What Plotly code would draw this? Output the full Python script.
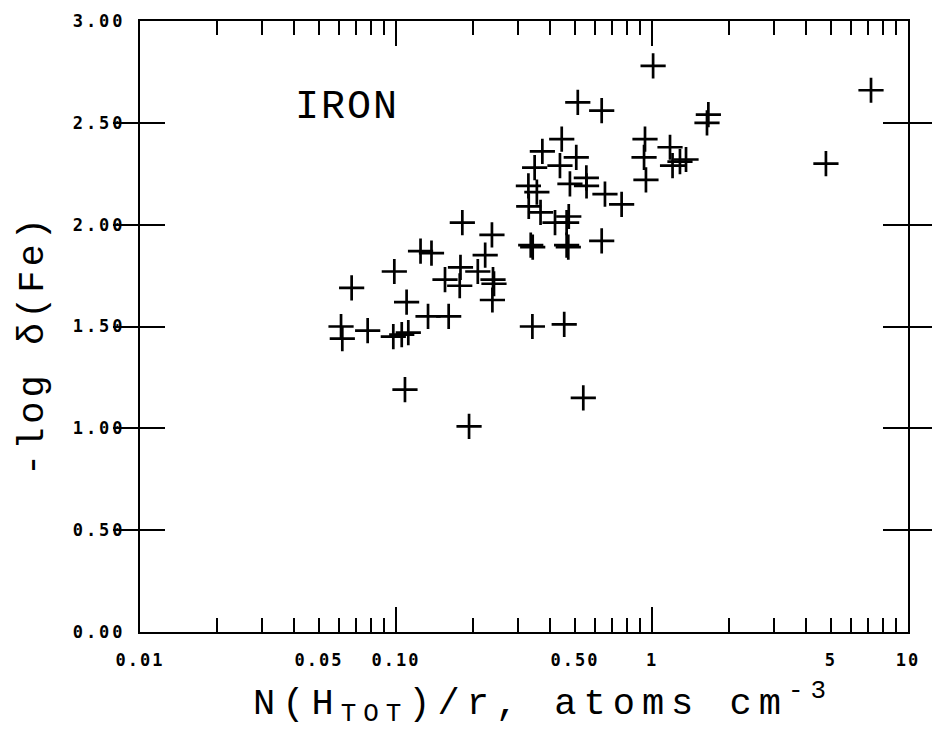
import plotly.graph_objects as go

# Data (N(H_TOT)/r in atoms cm^-3, -log delta(Fe))
nh = [1.01, 7.17, 0.513, 0.636, 1.66, 1.64, 0.444, 0.373, 0.506, 0.348,
      0.437, 0.939, 0.931, 1.176, 1.286, 1.358, 1.203, 4.78, 0.947, 0.554,
      0.478, 0.555, 0.329, 0.355, 0.655, 0.761, 0.330, 0.367, 0.418, 0.473,
      0.464, 0.336, 0.342, 0.471, 0.464, 0.636, 0.341, 0.454, 0.539, 0.1816,
      0.237, 0.223, 0.1247, 0.1376, 0.0985, 0.1786, 0.2087, 0.1554, 0.1774, 0.2393,
      0.2414, 0.238, 0.0671, 0.110, 0.1334, 0.1606, 0.0610, 0.0617, 0.0775, 0.0976,
      0.1053, 0.1117, 0.1084, 0.1929]
logdelta = [2.78, 2.66, 2.60, 2.56, 2.54, 2.50, 2.42, 2.36, 2.33, 2.28,
            2.29, 2.42, 2.33, 2.38, 2.31, 2.32, 2.29, 2.30, 2.22, 2.23,
            2.20, 2.19, 2.19, 2.16, 2.15, 2.10, 2.09, 2.06, 2.01, 2.04,
            2.01, 1.90, 1.89, 1.89, 1.90, 1.92, 1.50, 1.51, 1.15, 2.01,
            1.95, 1.85, 1.87, 1.86, 1.77, 1.79, 1.77, 1.73, 1.70, 1.73,
            1.71, 1.63, 1.69, 1.62, 1.55, 1.55, 1.50, 1.44, 1.48, 1.45,
            1.46, 1.47, 1.19, 1.01]

x_label_vals = [0.01, 0.05, 0.1, 0.5, 1, 5, 10]
x_label_text = ["0.01", "0.05", "0.10", "0.50", "1", "5", "10"]
x_decades = [0.01, 0.1, 1, 10]
x_minor = [m * d for d in [0.01, 0.1, 1] for m in range(2, 10)]
y_vals = [0, 0.5, 1.0, 1.5, 2.0, 2.5, 3.0]
y_text = ["0.00", "0.50", "1.00", "1.50", "2.00", "2.50", "3.00"]


def spaced(t, px):
    return f"<span style='letter-spacing:{px}px'>{t}</span>"


fig = go.Figure()
fig.add_trace(go.Scatter(
    x=nh, y=logdelta, mode="markers",
    marker=dict(symbol="cross-thin", size=18, color="black",
                line=dict(color="black", width=2.7)),
    showlegend=False, xaxis="x", yaxis="y"))
# invisible trace for overlay axis (long decade ticks)
fig.add_trace(go.Scatter(x=[0.01, 10], y=[0, 3], mode="markers",
                         marker=dict(opacity=0), showlegend=False,
                         hoverinfo="skip", xaxis="x2", yaxis="y"))

tick_font = dict(family="DejaVu Sans Mono", size=17, color="black", weight="bold")

fig.update_layout(
    width=932, height=740,
    margin=dict(l=140, r=24, t=21, b=108),
    paper_bgcolor="white", plot_bgcolor="white",
    xaxis=dict(type="log", range=[-2, 1], tickmode="array",
               tickvals=x_label_vals, ticktext=[spaced(t, 2) for t in x_label_text],
               ticks="inside", ticklen=14, tickwidth=1.5, tickcolor="black",
               showline=True, linecolor="black", linewidth=2, mirror="allticks",
               showgrid=False, zeroline=False, tickfont=tick_font,
               ticklabelstandoff=12,
               minor=dict(tickmode="array", tickvals=x_minor, ticks="inside",
                          ticklen=14, tickwidth=1.5, tickcolor="black", showgrid=False)),
    xaxis2=dict(type="log", range=[-2, 1], overlaying="x", side="bottom",
                anchor="y", tickmode="array", tickvals=x_decades,
                ticks="inside", ticklen=25, tickwidth=1.5, tickcolor="black",
                showticklabels=False, showline=False, mirror="allticks",
                showgrid=False, zeroline=False),
    yaxis=dict(range=[0, 3], tickmode="array", tickvals=y_vals,
               ticktext=[spaced(t, 3) for t in y_text],
               ticks="inside", ticklen=25, tickwidth=1.5, tickcolor="black",
               showline=True, linecolor="black", linewidth=2, mirror="allticks",
               showgrid=False, zeroline=False, tickfont=tick_font,
               ticklabelstandoff=9),
    annotations=[
        dict(text=spaced("IRON", 2), xref="paper", yref="paper", x=0.27, y=0.858,
             showarrow=False, xanchor="center", yanchor="middle",
             font=dict(family="Liberation Mono", size=40, color="black")),
        dict(text=spaced("-log δ(Fe)", 4), xref="paper", yref="paper", x=-0.139, y=0.47,
             showarrow=False, textangle=-90, xanchor="center", yanchor="middle",
             font=dict(family="Liberation Mono", size=37, color="black")),
        dict(text=spaced("N(H<sub>TOT</sub>)/r, atoms cm<sup>-3</sup>", 7),
             xref="paper", yref="paper",
             x=0.525, y=-0.116, showarrow=False, xanchor="center", yanchor="middle",
             font=dict(family="Liberation Mono", size=37, color="black")),
    ],
)

fig.write_html("out.html")
